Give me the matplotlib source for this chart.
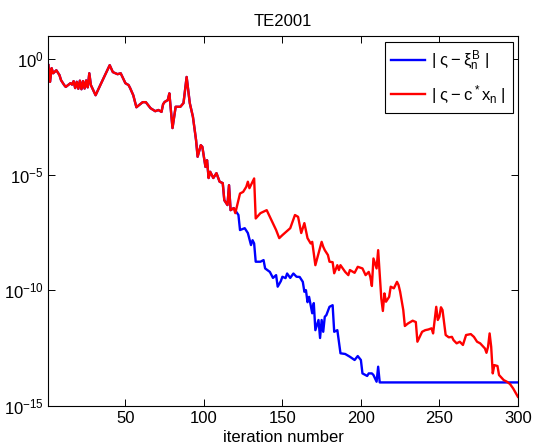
import numpy as np
import matplotlib
matplotlib.use('Agg')
import matplotlib.pyplot as plt
from matplotlib.ticker import NullLocator

plt.rcParams['font.family'] = ['Liberation Sans', 'DejaVu Sans']
plt.rcParams['mathtext.fontset'] = 'custom'
plt.rcParams['mathtext.rm'] = 'Liberation Sans'
plt.rcParams['mathtext.it'] = 'Liberation Sans'
plt.rcParams['mathtext.bf'] = 'Liberation Sans:bold'

# both errors coincide until about iteration 119 (values are log10 of the error)
common_iter = [1, 2, 3, 4, 6, 8, 9, 11, 12, 15, 16, 17, 18, 19, 20, 21, 22, 23, 24, 25,
               26, 27, 28, 31, 34, 37, 40, 42, 45, 47, 50, 52, 53, 55, 57, 61, 63, 66, 69, 71,
               73, 74, 75, 77, 78, 80, 82, 85, 87, 89, 91, 93, 95, 96, 98, 99, 101, 102, 103, 104,
               106, 108, 110, 112, 113, 115, 116, 117, 119]
common_log = [-0.26, -0.98, -0.39, -0.61, -0.48, -0.69, -0.91, -1.12, -1.20, -1.04, -1.10, -0.95,
              -1.25, -0.98, -1.28, -0.93, -1.30, -0.95, -1.27, -0.92, -1.22, -0.61, -1.12, -1.56,
              -1.12, -0.69, -0.26, -0.56, -0.65, -0.61, -1.04, -1.12, -1.25, -1.56, -2.08, -1.86,
              -1.86, -2.12, -2.25, -2.20, -2.28, -1.95, -1.85, -1.77, -1.48, -2.98, -2.06, -2.06,
              -1.90, -0.77, -1.90, -2.49, -3.50, -4.22, -3.72, -3.79, -4.66, -4.37, -5.14, -4.87,
              -5.14, -4.93, -5.30, -5.36, -6.10, -6.31, -5.45, -6.53, -6.44]

# |s - c* x_n|
red_iter = [120, 123, 125, 127, 128, 129, 132, 133, 136, 140, 142, 146, 148, 150, 155, 158, 160,
            162, 164, 166, 168, 169, 171, 173, 175, 176, 177, 179, 180, 182, 183, 185, 186, 187,
            190, 192, 193, 196, 198, 201, 203, 205, 206, 207, 208, 210, 211, 213, 214, 215, 216,
            218, 219, 221, 223, 224, 225, 227, 228, 230, 233, 235, 236, 238, 239, 241, 243, 245,
            246, 248, 249, 250, 251, 252, 254, 256, 258, 259, 261, 263, 265, 267, 270, 272, 274,
            276, 278, 279, 280, 281, 282, 283, 284, 285, 287, 288, 291, 293, 295, 297, 300]
red_log = [-6.66, -5.81, -5.74, -5.52, -5.30, -5.58, -5.16, -6.89, -6.66, -6.53, -6.82, -7.39,
           -7.74, -7.61, -7.31, -6.74, -6.82, -7.52, -7.09, -7.74, -7.97, -7.90, -8.91, -8.40,
           -7.90, -8.11, -8.26, -8.47, -8.76, -8.78, -9.26, -8.91, -9.12, -8.91, -9.20, -9.34,
           -9.12, -9.24, -8.98, -9.05, -9.34, -9.20, -9.42, -9.81, -8.62, -9.05, -8.26, -10.35,
           -10.89, -10.13, -10.49, -10.28, -9.84, -9.91, -9.63, -9.77, -10.06, -10.85, -11.54,
           -11.43, -11.31, -11.37, -12.22, -11.93, -11.79, -11.72, -11.69, -11.64, -11.86, -10.71,
           -11.28, -11.14, -10.73, -10.85, -11.93, -12.03, -12.01, -12.15, -12.29, -12.22, -12.36,
           -11.93, -11.89, -12.01, -12.22, -12.29, -12.44, -12.51, -12.70, -12.44, -11.86, -12.44,
           -13.59, -13.23, -13.27, -13.66, -13.88, -13.95, -14.05, -14.24, -14.60]

# |s - xi_n^B|
blue_iter = [122, 123, 126, 128, 130, 131, 132, 133, 136, 138, 139, 142, 144, 146, 147, 149, 150,
             152, 153, 155, 157, 159, 161, 163, 164, 165, 166, 167, 169, 170, 171, 173, 174, 175,
             176, 177, 178, 180, 182, 183, 185, 187, 190, 193, 196, 198, 200, 201, 204, 205, 207,
             208, 210, 211, 212, 300]
blue_log = [-6.74, -7.39, -7.31, -7.52, -8.04, -7.83, -7.97, -8.76, -8.76, -8.69, -9.05, -9.20,
            -9.46, -9.34, -9.84, -9.60, -9.41, -9.47, -9.27, -9.46, -9.27, -9.41, -9.42, -9.63,
            -10.06, -9.99, -10.51, -10.28, -10.99, -10.55, -11.72, -11.28, -12.06, -11.28, -11.79,
            -11.14, -11.07, -10.71, -10.64, -11.79, -11.72, -12.72, -12.75, -12.87, -13.01, -12.84,
            -13.01, -13.59, -13.70, -13.59, -13.59, -13.66, -13.95, -13.30, -13.98, -13.98]

blue_x = np.array(common_iter + blue_iter)
blue_y = 10.0 ** np.array(common_log + blue_log)
red_x = np.array(common_iter + red_iter)
red_y = 10.0 ** np.array(common_log + red_log)

fig = plt.figure(figsize=(5.34, 4.47), dpi=100)
ax = fig.add_axes([0.0908, 0.0917, 0.879, 0.8277])

ax.semilogy(blue_x, blue_y, color='b', lw=1.7, label=r'$|\ \varsigma - \xi_n^B\ |$')
ax.semilogy(red_x, red_y, color='r', lw=1.7, label=r'$|\ \varsigma - c^*x_n\ |$')

ax.set_xlim(1, 300)
ax.set_ylim(1e-15, 1e1)
ax.set_xticks([50, 100, 150, 200, 250, 300])
ax.set_yticks([1e0, 1e-5, 1e-10, 1e-15])
ax.yaxis.set_minor_locator(NullLocator())
ax.tick_params(direction='in', top=True, right=True, length=5, width=0.7, labelsize=12)
for s in ax.spines.values():
    s.set_linewidth(0.8)

ax.set_title('TE2001', fontsize=12, pad=7)
ax.set_xlabel('iteration number', fontsize=12, labelpad=3)

leg = ax.legend(loc='upper right', bbox_to_anchor=(0.989, 0.984), borderaxespad=0,
                fancybox=False, edgecolor='k', framealpha=1, fontsize=12,
                handlelength=2.0, handletextpad=0.4, labelspacing=0.6)
leg.get_frame().set_linewidth(0.8)

fig.savefig('out.png', dpi=100)
